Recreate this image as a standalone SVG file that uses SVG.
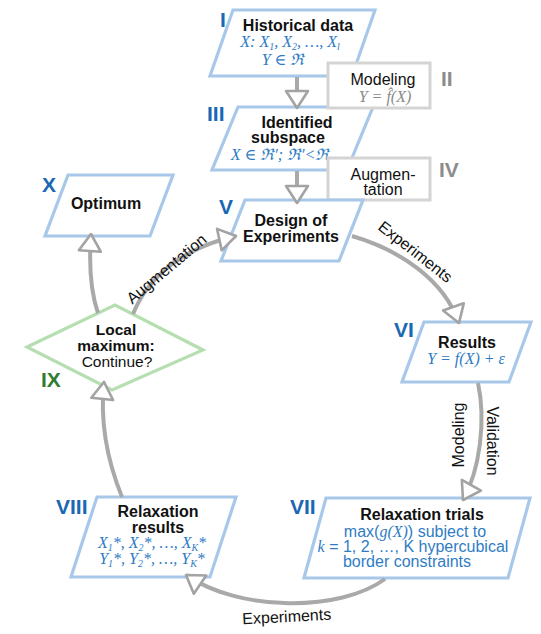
<svg xmlns="http://www.w3.org/2000/svg" width="541" height="634" viewBox="0 0 541 634">
<defs>
<style>
.node{fill:#fff;stroke:#a8c8ea;stroke-width:3.2}
.side{fill:#fff;stroke:#d4d4d4;stroke-width:3}
.dec{fill:#fff;stroke:#b6dfb1;stroke-width:3.2}
.conn{fill:none;stroke:#a9a9a9;stroke-width:4;marker-end:url(#ah)}
.t{font-family:"Liberation Sans",Arial,sans-serif;font-weight:bold;font-size:16px;fill:#111;text-anchor:middle}
.r{font-family:"Liberation Sans",Arial,sans-serif;font-size:16px;fill:#111;text-anchor:middle}
.b{font-family:"Liberation Sans",Arial,sans-serif;font-size:16px;fill:#2f7cc4;text-anchor:middle}
.m{font-family:"Liberation Serif","DejaVu Serif",serif;font-style:italic;font-size:16px;fill:#2f7cc4;text-anchor:middle}
.g{fill:#8a8a8a}
.sub{font-size:10px}
.num{font-family:"Liberation Sans",Arial,sans-serif;font-weight:bold;font-size:21px;fill:#1a68b3}
.numg{fill:#8c8c8c}
.numgr{fill:#2e7d32}
.lab{font-family:"Liberation Sans",Arial,sans-serif;font-size:16px;fill:#111;text-anchor:middle}
.d{font-size:15.5px}
</style>
<marker id="ah" markerUnits="userSpaceOnUse" viewBox="0 0 20 24" markerWidth="20" markerHeight="24" refX="18" refY="12" orient="auto" overflow="visible">
<path d="M1,1 L18,12 L1,23 Z" fill="#fff" stroke="#a3a3a3" stroke-width="2.6" stroke-linejoin="round"/>
</marker>
</defs>

<g id="node-I">
<polygon class="node" points="233,10 375,10 352,76 210,76"/>
<text class="num" x="220" y="27">I</text>
<text class="t" x="298" y="31">Historical data</text>
<text class="m" x="290" y="47">X: X<tspan class="sub" dy="3">1</tspan><tspan dy="-3">, X</tspan><tspan class="sub" dy="3">2</tspan><tspan dy="-3">, …, X</tspan><tspan class="sub" dy="3">l</tspan></text>
<text class="m" x="283" y="65">Y ∈ ℜ</text>
</g>

<g id="node-III">
<polygon class="node" points="238,107 373,107 347,170 212,170"/>
<text class="num" x="207" y="121">III</text>
<text class="t" x="297" y="128">Identified</text>
<text class="t" x="288" y="143">subspace</text>
<text class="m" x="280" y="160">X ∈ ℜ′; ℜ′&lt;ℜ</text>
</g>

<g id="node-II">
<rect class="side" x="328" y="63" width="102" height="45"/>
<text class="num numg" x="441" y="86">II</text>
<text class="r" x="383" y="85">Modeling</text>
<text class="m g" x="385" y="102">Y = f̂(X)</text>
</g>

<g id="node-IV">
<rect class="side" x="328" y="158" width="102" height="42"/>
<text class="num numg" x="439" y="177">IV</text>
<text class="r" x="383" y="180">Augmen-</text>
<text class="r" x="383" y="195">tation</text>
</g>

<g id="node-V">
<polygon class="node" points="245,200 363,200 339,261 221,261"/>
<text class="num" x="219" y="214">V</text>
<text class="t" x="291" y="226">Design of</text>
<text class="t" x="291" y="242">Experiments</text>
</g>

<g id="node-X">
<polygon class="node" points="68,175 173,175 150,236 45,236"/>
<text class="num" x="42" y="192">X</text>
<text class="t" x="106" y="209">Optimum</text>
</g>

<g id="node-IX">
<polygon class="dec" points="27,347 115,305 203,350 112,390"/>
<text class="num numgr" x="41" y="387">IX</text>
<text class="t d" x="116" y="335">Local</text>
<text class="t d" x="116" y="351">maximum:</text>
<text class="r d" x="117" y="367">Continue?</text>
</g>

<g id="node-VI">
<polygon class="node" points="424,322 531,322 509,382 402,382"/>
<text class="num" x="394" y="337">VI</text>
<text class="t" x="467" y="348">Results</text>
<text class="m" x="466" y="364">Y = f(X) + ε</text>
</g>

<g id="node-VII">
<polygon class="node" points="326,498 530,498 508,578 304,578"/>
<text class="num" x="290" y="514">VII</text>
<text class="t" x="422" y="520">Relaxation trials</text>
<text class="b" x="415" y="537">max(<tspan class="m">g(X)</tspan>) subject to</text>
<text class="b" x="413" y="552"><tspan class="m">k</tspan> = 1, 2, …, K hypercubical</text>
<text class="b" x="407" y="567">border constraints</text>
</g>

<g id="node-VIII">
<polygon class="node" points="97,497 236,497 210,577 71,577"/>
<text class="num" x="56" y="514">VIII</text>
<text class="t" x="158" y="517">Relaxation</text>
<text class="t" x="158" y="533">results</text>
<text class="m" x="152" y="548">X<tspan class="sub" dy="3">1</tspan><tspan dy="-3">*, X</tspan><tspan class="sub" dy="3">2</tspan><tspan dy="-3">*, …, X</tspan><tspan class="sub" dy="3">K</tspan><tspan dy="-3">*</tspan></text>
<text class="m" x="152" y="564">Y<tspan class="sub" dy="3">1</tspan><tspan dy="-3">*, Y</tspan><tspan class="sub" dy="3">2</tspan><tspan dy="-3">*, …, Y</tspan><tspan class="sub" dy="3">K</tspan><tspan dy="-3">*</tspan></text>
</g>

<g id="connectors">
<path class="conn" d="M297,77 L297,108"/>
<path class="conn" d="M297,171 L297,203"/>
<path class="conn" d="M352,236 C400,250 444,280 459,323"/>
<path class="conn" d="M478,383 C486,420 480,470 463,500"/>
<path class="conn" d="M385,579 C340,612 240,612 186,575"/>
<path class="conn" d="M122,497 C107,460 100,420 104,382"/>
<path class="conn" d="M98,313 C90,290 89,262 91,234"/>
<path class="conn" d="M133,314 C150,272 190,246 236,236"/>
<text class="lab" transform="translate(412,256) rotate(38)">Experiments</text>
<text class="lab" transform="translate(464,435) rotate(-90)">Modeling</text>
<text class="lab" transform="translate(487,441) rotate(90)">Validation</text>
<text class="lab" transform="translate(287,622) rotate(-3)">Experiments</text>
<text class="lab" transform="translate(170,273) rotate(-40)">Augmentation</text>
</g>
</svg>
